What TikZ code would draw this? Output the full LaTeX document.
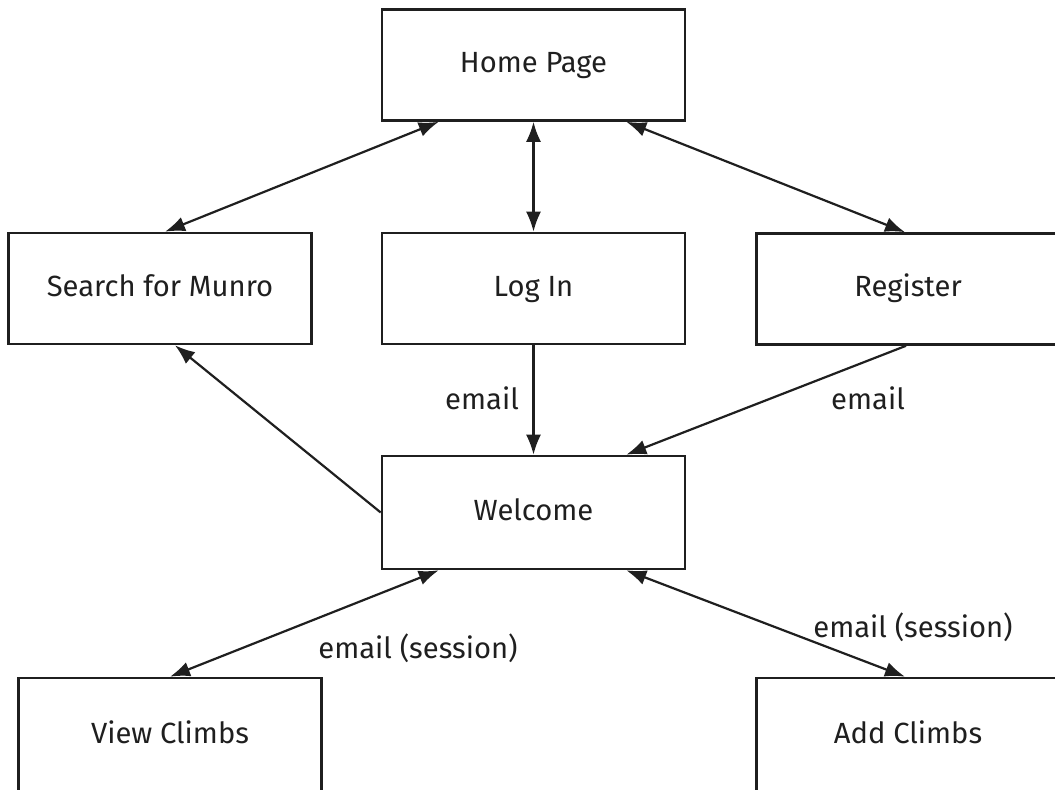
\documentclass[tikz,border=0pt]{standalone}
\usepackage{fontspec}
\setmainfont{Fira Sans}
\usetikzlibrary{arrows.meta,calc}

\tikzset{
  page/.style={draw, line width=1.3pt, minimum width=151.5pt, minimum height=55.5pt, inner sep=0pt, text height=11pt, text depth=3pt},
  link/.style={line width=1.1pt, -{Latex[length=10pt,width=7.5pt]}},
  twoway/.style={link, {Latex[length=10pt,width=7.5pt]}-{Latex[length=10pt,width=7.5pt]}},
  tag/.style={inner sep=0pt}
}

\begin{document}
\begin{tikzpicture}[x=0.5pt, y=-0.5pt, font=\fontsize{14.6}{17}\selectfont, color={black!88}]
\useasboundingbox (0,0) rectangle (1055,790);
\clip (0,0) rectangle (1055,790);
\node[page] (home) at (533.5,65) {Home Page};
\node[page] (search) at (160,288.5) {Search for Munro};
\node[page] (login) at (533.5,288.5) {Log In};
\node[page] (register) at (908,289) {Register};
\node[page, minimum height=56.5pt] (welcome) at (533.5,512.5) {Welcome};
\node[page, minimum height=57pt] (view) at (170,735) {View Climbs};
\node[page, minimum height=57pt] (add) at (908,735) {Add Climbs};

\draw[twoway] ($(home.south west)+(58,0)$) -- ($(search.north)+(5,0)$);
\draw[twoway] (home.south) -- (login.north);
\draw[twoway] ($(home.south east)+(-60,0)$) -- ($(register.north)+(-3,0)$);
\draw[link] (login.south) -- (welcome.north);
\draw[link] ($(register.south)+(-2,0)$) -- ($(welcome.north east)+(-60,0)$);
\draw[link] (welcome.west) -- ($(search.south)+(15,0)$);
\draw[twoway] ($(welcome.south west)+(58,0)$) -- (view.north);
\draw[twoway] ($(welcome.south east)+(-60,0)$) -- ($(add.north)+(-3,0)$);

\node[tag] (t1) at (482,398) {email};
\node[tag] (t2) at (868,398) {email};
\node[tag] (t3) at (418,648) {email (session)};
\node[tag] (t4) at (913,627) {email (session)};
\end{tikzpicture}
\end{document}
